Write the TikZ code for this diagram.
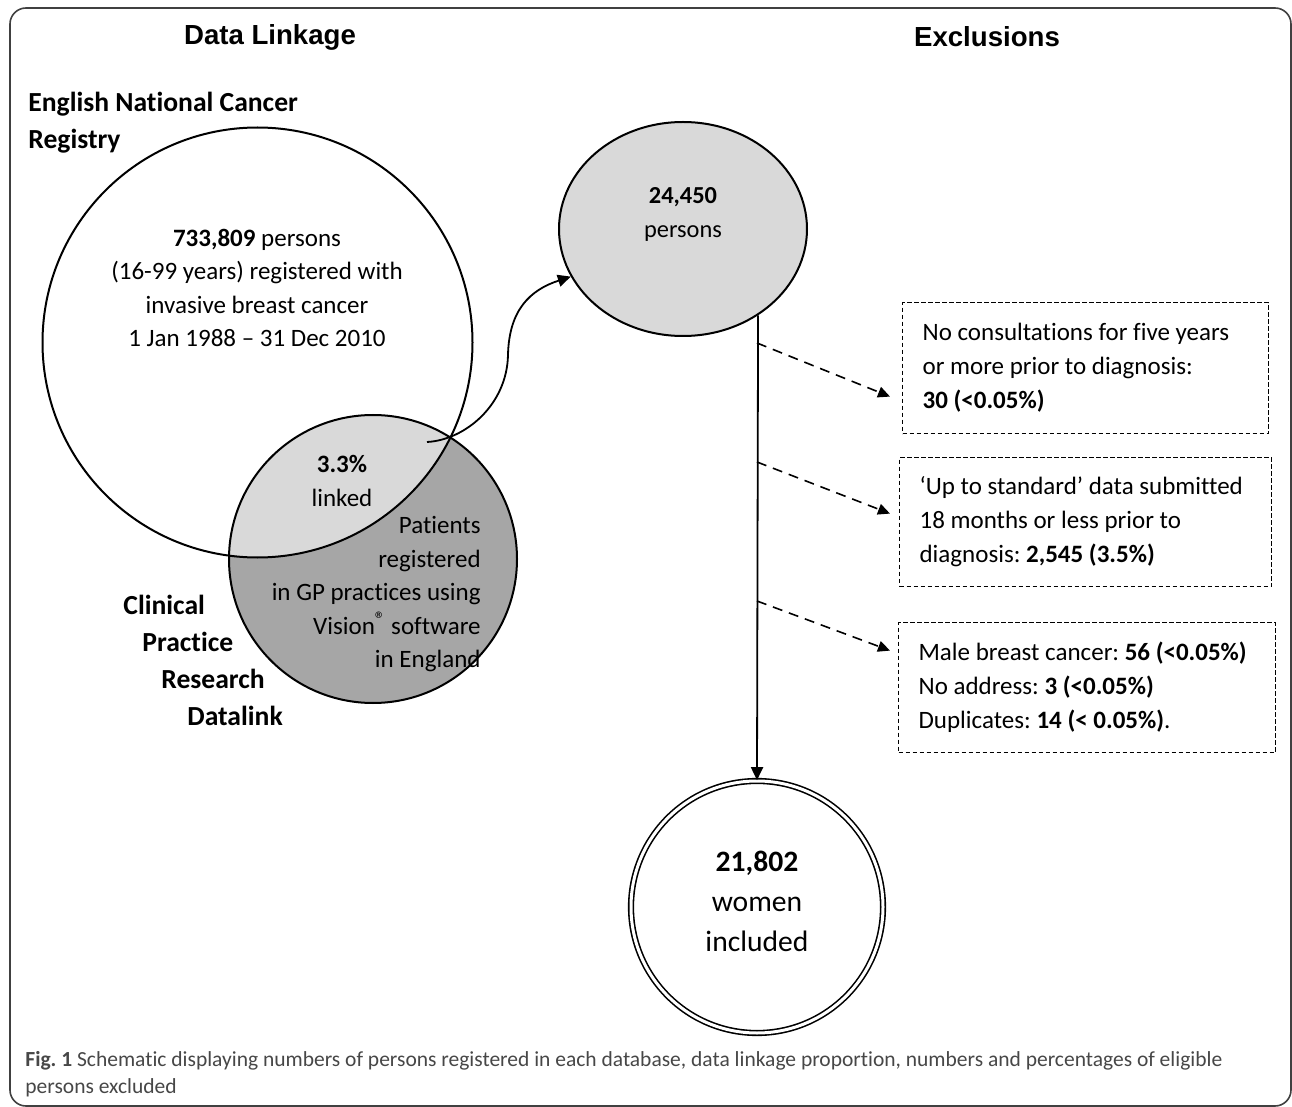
\documentclass[tikz,border=0pt]{standalone}
\usepackage{fontspec}
\setmainfont{Carlito}[Ligatures=NoCommon]
\newfontfamily\headfont{Liberation Sans}
\usepackage{xcolor}
\usepackage{tikz}
\usetikzlibrary{shapes, arrows.meta, positioning, calc}

\definecolor{lightgrey}{HTML}{D9D9D9}
\definecolor{midgrey}{HTML}{A6A6A6}
\definecolor{capgrey}{HTML}{474747}

\newcommand\lblfont{\bfseries\fontsize{13.8}{18.5}\selectfont}
\newcommand\txtfont{\fontsize{12.5}{16.75}\selectfont}
\frenchspacing

\tikzset{
  lbl/.style={inner sep=0pt},
  circ/.style={circle, draw, line width=1pt, inner sep=0pt},
  exclbox/.style={draw, dash pattern=on 2.2pt off 1.3pt, line width=0.6pt, align=flush left,
    inner xsep=10pt, anchor=north west, font=\fontsize{12.5}{17}\selectfont},
  arr/.style={-{Triangle[length=6.5pt,width=6pt]}, line width=0.9pt},
  dasharr/.style={-{Triangle[length=6pt,width=5.5pt]}, dash pattern=on 5pt off 3.5pt, line width=0.8pt}
}

\begin{document}
\begin{tikzpicture}[x=0.5pt, y=-0.5pt]
    \useasboundingbox (0,0) rectangle (1292,1107);
    \draw[rounded corners=8pt, line width=0.8pt, black!75] (10,8) rectangle (1291,1106);

    % headings
    \node[lbl, font=\headfont\bfseries\fontsize{13.8}{16}\selectfont] (hlink) at (270,37) {Data Linkage};
    \node[lbl, font=\headfont\bfseries\fontsize{13.8}{16}\selectfont] (hexcl) at (987,37) {Exclusions};

    % linkage circles
    \fill[midgrey] (373,559) circle (72pt);
    \begin{scope}
        \clip (373,559) circle (72pt);
        \fill[lightgrey] (257.5,342.5) circle (107.5pt);
    \end{scope}
    \node[circ, minimum size=215pt] (encr) at (257.5,342.5) {};
    \node[circ, minimum size=144pt] (cprd) at (373,559) {};

    \node[lbl, anchor=west, align=left, font=\lblfont] (encr-lbl) at (28,122.5) {English National Cancer\\Registry};
    \node[lbl, align=center, font=\txtfont] (encr-txt) at (257,288)
        {\textbf{733,809} persons\\(16-99 years) registered with\\invasive breast cancer\\1 Jan 1988 -- 31 Dec 2010};
    \node[lbl, align=center, font=\txtfont] (link-txt) at (342,481) {\textbf{3.3\%}\\linked};
    \node[lbl, anchor=east, align=right, font=\txtfont] (cprd-txt) at (481,594.5)
        {Patients\\registered\\in GP practices using\\Vision\raisebox{0.3em}{\fontsize{10.5}{10.5}\selectfont ®} software\\in England};
    \node[lbl, anchor=west, align=left, font=\lblfont] (cprd-lbl) at (123,660.5)
        {Clinical\\\hspace*{9.5pt}Practice\\\hspace*{19pt}Research\\\hspace*{32pt}Datalink};

    % persons and included
    \node[ellipse, draw, fill=lightgrey, line width=1pt, minimum width=124pt, minimum height=107pt, inner sep=0pt] (ppl) at (683,229) {};
    \node[lbl, align=center, font=\fontsize{12.2}{17}\selectfont] (ppl-txt) at (683,214) {\textbf{24,450}\\persons};
    \node[circle, draw, double, double distance=1.5pt, line width=0.8pt, minimum size=126pt, inner sep=0pt] (incl) at (757,907) {};
    \node[lbl, align=center, font=\fontsize{14.8}{20}\selectfont] (incl-txt) at (757,901) {\textbf{21,802}\\women\\included};

    \coordinate (lk) at (427,442);
    \draw[arr] (lk) .. controls (465,440) and (507,405) .. (508,355)
        .. controls (509,310) and (530,290) .. (ppl.203);
    \draw[arr] (ppl.-49.26) -- (incl.north);

    % exclusion boxes
    \node[exclbox, text width=163pt, minimum height=65.5pt] (excl1) at (902,302)
        {No consultations for five years\\or more prior to diagnosis:\\\textbf{30 (<0.05\%)}\\[-2pt]};
    \node[exclbox, text width=166pt, minimum height=64.5pt] (excl2) at (899,457)
        {‘Up to standard’ data submitted\\18 months or less prior to\\diagnosis: \textbf{2,545 (3.5\%)}\\[-2pt]};
    \node[exclbox, text width=168.5pt, minimum height=65pt] (excl3) at (898,622)
        {Male breast cancer: \textbf{56 (<0.05\%)}\\No address: \textbf{3 (<0.05\%)}\\Duplicates: \textbf{14 (< 0.05\%)}.\\[-2pt]};

    \coordinate (b1) at (757,343);
    \coordinate (b2) at (757,462);
    \coordinate (b3) at (757,601);
    \draw[dasharr] (b1) -- ($(excl1.west)+(-12,28.5)$);
    \draw[dasharr] (b2) -- ($(excl2.west)+(-9,-8.5)$);
    \draw[dasharr] (b3) -- ($(excl3.west)+(-8,-37)$);

    % caption
    \node[lbl, anchor=west, align=left, text=capgrey, font=\fontsize{10.75}{13.5}\selectfont] (cap) at (25,1074.5)
        {\textbf{Fig. 1} Schematic displaying numbers of persons registered in each database, data linkage proportion, numbers and percentages of eligible\\persons excluded};
\end{tikzpicture}
\end{document}
